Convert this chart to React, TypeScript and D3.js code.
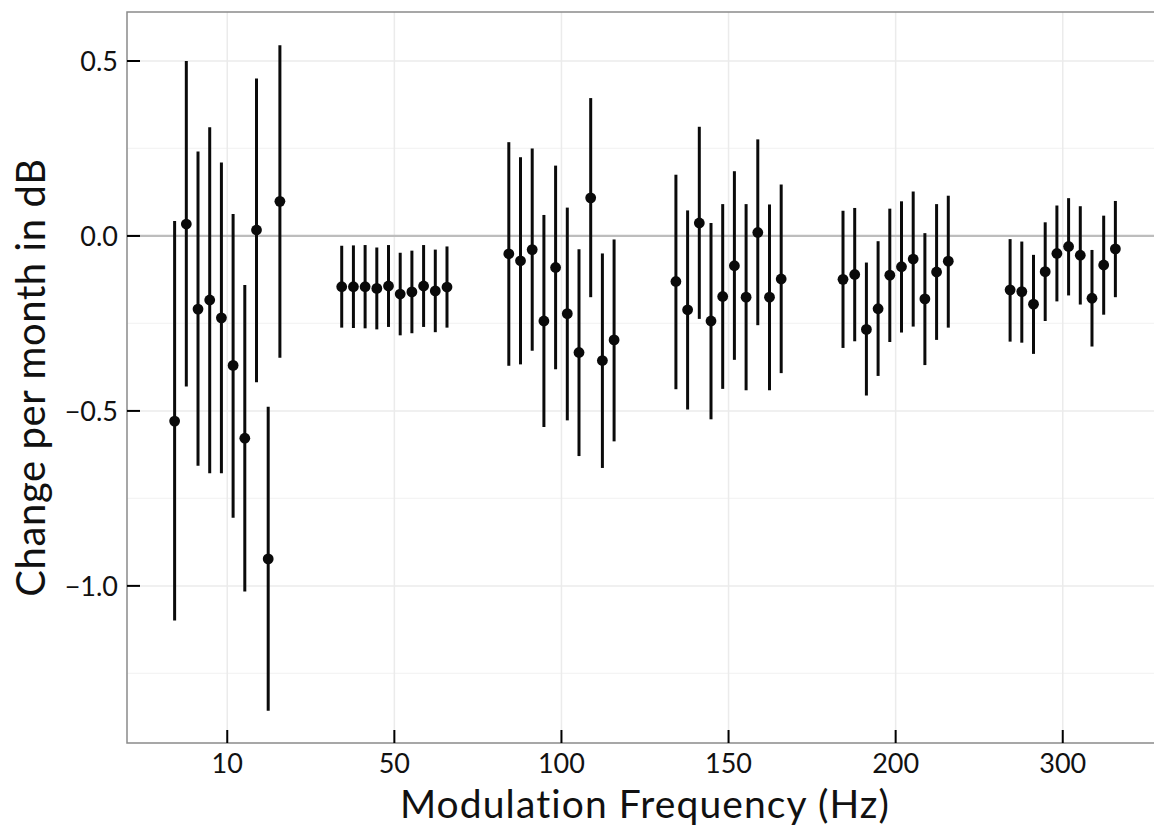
import React, { useEffect, useRef } from 'react';
import * as d3 from 'd3';

// modulation frequency groups (x categories)
const freqs = ['10', '50', '100', '150', '200', '300'];

// point estimates, 10 per frequency group (dodged)
const pointEst = [
  [-0.529, 0.034, -0.209, -0.183, -0.234, -0.37, -0.578, 0.017, -0.923, 0.099],
  [-0.145, -0.145, -0.145, -0.15, -0.143, -0.166, -0.16, -0.143, -0.157, -0.146],
  [-0.051, -0.071, -0.039, -0.243, -0.09, -0.222, -0.333, 0.109, -0.356, -0.297],
  [-0.13, -0.211, 0.037, -0.243, -0.173, -0.085, -0.175, 0.01, -0.175, -0.123],
  [-0.124, -0.11, -0.267, -0.208, -0.112, -0.088, -0.066, -0.18, -0.103, -0.072],
  [-0.154, -0.159, -0.195, -0.102, -0.05, -0.03, -0.055, -0.178, -0.083, -0.037],
];

const ciLow = [
  [-1.099, -0.43, -0.657, -0.678, -0.678, -0.805, -1.016, -0.418, -1.357, -0.348],
  [-0.262, -0.263, -0.264, -0.267, -0.26, -0.284, -0.278, -0.26, -0.275, -0.262],
  [-0.371, -0.367, -0.328, -0.546, -0.381, -0.527, -0.629, -0.175, -0.663, -0.587],
  [-0.438, -0.496, -0.237, -0.524, -0.437, -0.354, -0.441, -0.255, -0.441, -0.392],
  [-0.32, -0.301, -0.456, -0.4, -0.303, -0.276, -0.259, -0.369, -0.297, -0.262],
  [-0.302, -0.305, -0.337, -0.243, -0.187, -0.17, -0.196, -0.316, -0.225, -0.175],
];

const ciHigh = [
  [0.043, 0.5, 0.241, 0.311, 0.21, 0.063, -0.14, 0.45, -0.488, 0.545],
  [-0.028, -0.027, -0.026, -0.033, -0.026, -0.048, -0.042, -0.026, -0.039, -0.03],
  [0.268, 0.225, 0.25, 0.06, 0.201, 0.081, -0.038, 0.394, -0.05, -0.01],
  [0.175, 0.073, 0.312, 0.037, 0.091, 0.185, 0.091, 0.276, 0.09, 0.147],
  [0.072, 0.08, -0.076, -0.015, 0.078, 0.099, 0.127, 0.008, 0.091, 0.115],
  [-0.009, -0.016, -0.054, 0.039, 0.087, 0.108, 0.085, -0.04, 0.058, 0.1],
];

const yMajor = [0.5, 0.0, -0.5, -1.0];
const yMinor = [0.25, -0.25, -0.75, -1.25];

function App() {
  const svgRef = useRef<SVGSVGElement | null>(null);

  useEffect(() => {
    const width = 1154;
    const height = 825;
    const left = 127, right = 1163, top = 12, bottom = 743;
    const font = "Lato, 'Open Sans', sans-serif";

    const svg = d3.select(svgRef.current);
    svg.html('');
    svg.attr('width', width).attr('height', height);

    const x = d3.scalePoint<string>().domain(freqs).range([left, right]).padding(0.6);
    const y = d3.scaleLinear().domain([-1.449, 0.64]).range([bottom, top]);
    const step = x.step();
    const dodge = step * 0.7 / 10;

    svg.append('rect').attr('width', width).attr('height', height).attr('fill', '#fff');

    const grid = svg.append('g');
    grid.selectAll('line.minor')
      .data(yMinor)
      .join('line')
      .attr('x1', left).attr('x2', right)
      .attr('y1', d => y(d)).attr('y2', d => y(d))
      .attr('stroke', '#f4f4f4').attr('stroke-width', 1.2);
    grid.selectAll('line.major')
      .data(yMajor)
      .join('line')
      .attr('x1', left).attr('x2', right)
      .attr('y1', d => y(d)).attr('y2', d => y(d))
      .attr('stroke', '#ebebeb').attr('stroke-width', 1.5);
    grid.selectAll('line.vx')
      .data(freqs)
      .join('line')
      .attr('x1', d => x(d)!).attr('x2', d => x(d)!)
      .attr('y1', top).attr('y2', bottom)
      .attr('stroke', '#ebebeb').attr('stroke-width', 1.5);

    // reference line at zero
    svg.append('line')
      .attr('x1', left).attr('x2', right)
      .attr('y1', y(0)).attr('y2', y(0))
      .attr('stroke', '#bdbdbd').attr('stroke-width', 2.2);

    // error bars + points
    const rows = freqs.flatMap((f, gi) =>
      pointEst[gi].map((v, i) => ({ f, i, v, lo: ciLow[gi][i], hi: ciHigh[gi][i] })));
    const cx = (d: { f: string; i: number }) => x(d.f)! + (d.i - 4.5) * dodge;

    svg.append('g').selectAll('line')
      .data(rows)
      .join('line')
      .attr('x1', cx).attr('x2', cx)
      .attr('y1', d => y(d.lo)).attr('y2', d => y(d.hi))
      .attr('stroke', '#0a0a0a').attr('stroke-width', 3);

    svg.append('g').selectAll('circle')
      .data(rows)
      .join('circle')
      .attr('cx', cx).attr('cy', d => y(d.v))
      .attr('r', 5.4)
      .attr('fill', '#0a0a0a');

    // panel border
    svg.append('rect')
      .attr('x', left).attr('y', top)
      .attr('width', right - left).attr('height', bottom - top)
      .attr('fill', 'none').attr('stroke', '#8a8a8a').attr('stroke-width', 1.5);

    // inward ticks
    svg.append('g').selectAll('line')
      .data(yMajor)
      .join('line')
      .attr('x1', left).attr('x2', left + 13)
      .attr('y1', d => y(d)).attr('y2', d => y(d))
      .attr('stroke', '#000').attr('stroke-width', 2);
    svg.append('g').selectAll('line')
      .data(freqs)
      .join('line')
      .attr('x1', d => x(d)!).attr('x2', d => x(d)!)
      .attr('y1', bottom).attr('y2', bottom - 13)
      .attr('stroke', '#000').attr('stroke-width', 2);

    // tick labels
    svg.append('g').selectAll('text')
      .data(yMajor)
      .join('text')
      .attr('x', 118).attr('y', d => y(d))
      .attr('dy', '0.36em')
      .attr('text-anchor', 'end')
      .style('font-family', font).style('font-size', '27px').attr('fill', '#111')
      .text(d => d === 0 ? '0.0' : d3.format('.1f')(d).replace('-', '\u2212'));
    svg.append('g').selectAll('text')
      .data(freqs)
      .join('text')
      .attr('x', d => x(d)!).attr('y', 773)
      .attr('text-anchor', 'middle')
      .style('font-family', font).style('font-size', '27px').attr('fill', '#111')
      .text(d => d);

    // axis titles
    svg.append('text')
      .attr('x', 645).attr('y', 818)
      .attr('text-anchor', 'middle')
      .style('font-family', font).style('font-size', '39px')
      .style('letter-spacing', '1.1px').attr('fill', '#111')
      .text('Modulation Frequency (Hz)');
    svg.append('text')
      .attr('transform', `translate(45,${(top + bottom) / 2}) rotate(-90)`)
      .attr('text-anchor', 'middle')
      .style('font-family', font).style('font-size', '40px')
      .style('letter-spacing', '0.6px').attr('fill', '#111')
      .text('Change per month in dB');
  }, []);

  return (
    <div style={{ position: 'absolute', left: 0, top: 0, width: 1154, height: 825, overflow: 'hidden' }}>
      <svg ref={svgRef} style={{ display: 'block' }}></svg>
    </div>
  );
}

export default App;
